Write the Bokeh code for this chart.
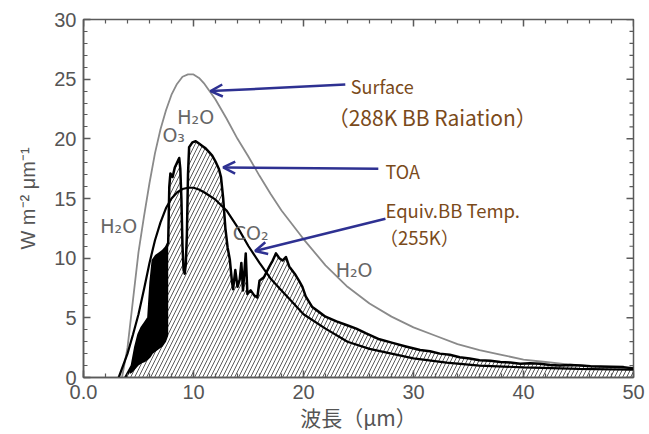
from bokeh.plotting import figure
from bokeh.models import Label, Arrow, OpenHead, FixedTicker, Range1d
from bokeh.embed import file_html
from bokeh.resources import INLINE

# ---- data ----
surf_x = [3.5, 4, 4.5, 5, 5.5, 6, 6.5, 7, 7.5, 8, 8.5, 9, 9.5, 10, 10.5, 11, 12, 13, 14, 15, 16,
          17, 18, 19, 20, 22, 24, 26, 28, 30, 32, 34, 36, 38, 40, 42, 44, 46, 48, 50]
surf_y = [0, 2.5, 6.5, 10.5, 13.5, 16.3, 18.8, 20.8, 22.4, 23.7, 24.6, 25.2, 25.4, 25.4, 25.1, 24.6,
          23.3, 21.7, 20.0, 18.5, 16.9, 15.4, 14.0, 12.8, 11.6, 9.4, 7.6, 6.2, 5.1, 4.2, 3.5, 2.8,
          2.3, 1.9, 1.5, 1.3, 1.1, 0.95, 0.85, 0.75]

bb_x = [3.2, 4, 4.5, 5, 5.5, 6, 6.5, 7, 7.5, 8, 8.5, 9, 9.5, 10, 10.5, 11, 12, 13, 14, 15, 16, 17,
        18, 19, 20, 22, 24, 26, 28, 30, 33, 36, 40, 45, 50]
bb_y = [0, 2.0, 3.6, 5.3, 7.4, 9.6, 11.5, 13.0, 14.2, 15.0, 15.5, 15.8, 15.9, 15.9, 15.75, 15.5,
        14.9, 14.0, 12.6, 11.0, 9.6, 8.3, 7.3, 6.3, 5.3, 4.1, 3.0, 2.4, 2.0, 1.6, 1.25, 1.0, 0.85,
        0.72, 0.65]

toa_x = [3.8, 4.1, 4.4, 4.7, 5.0, 5.3, 5.6, 5.9, 6.1, 6.3, 6.6, 6.9, 7.2, 7.5, 7.7, 7.8, 7.9, 8.1,
         8.3, 8.5, 8.7, 8.8, 8.9, 9.0, 9.1, 9.2, 9.3, 9.4, 9.5, 9.6, 9.9, 10.2, 10.5, 10.8, 11.1,
         11.4, 11.7, 12.0, 12.3, 12.5, 12.7, 12.9, 13.1, 13.3, 13.5, 13.6, 13.8, 14.0, 14.2, 14.35,
         14.5, 14.75, 14.9, 15.2, 15.5, 15.8, 16.0, 16.4, 16.9, 17.2, 17.5, 17.8, 18.1, 18.4, 18.7,
         19.2, 19.6, 19.9, 20.2, 20.8, 21.4, 22.0, 23.0, 23.9, 24.8, 25.7, 26.9, 28.1, 29.3, 30.6,
         31.5, 32.4, 33.3, 34.2, 35.1, 36.0, 37.0, 37.9, 38.8, 39.7, 40.6, 41.5, 42.4, 43.3, 44.2,
         45.2, 46.1, 47.0, 48.0, 49.1, 50.0]
toa_y = [0, 0.5, 1.0, 2.5, 3.6, 4.2, 4.6, 5.0, 8.0, 9.8, 10.2, 10.4, 10.6, 10.9, 11.3, 16.0, 17.1,
         16.8, 17.6, 18.0, 18.4, 17.5, 15.0, 11.0, 9.0, 8.7, 9.5, 12.0, 17.0, 19.3, 19.7, 19.8,
         19.6, 19.4, 19.2, 18.9, 18.6, 18.1, 17.5, 16.8, 15.0, 12.5, 10.9, 9.9, 8.0, 7.4, 9.0,
         7.6, 8.2, 9.6, 7.3, 10.4, 7.0, 7.3, 6.9, 6.7, 8.1, 8.4, 9.3, 9.8, 10.4, 10.0, 9.8, 10.1,
         9.3, 8.7, 8.1, 7.6, 6.8, 5.9, 5.5, 5.1, 4.7, 4.4, 4.1, 3.7, 3.2, 2.9, 2.6, 2.3, 2.2, 2.0,
         1.9, 1.7, 1.6, 1.45, 1.4, 1.3, 1.25, 1.15, 1.2, 1.15, 1.05, 1.0, 1.05, 1.0, 0.95, 0.92,
         0.9, 0.87, 0.75]

band_x = [4.2, 4.4, 4.7, 5.0, 5.3, 5.6, 5.9, 6.1, 6.3, 6.6, 6.9, 7.2, 7.5, 7.7]
band_hi = [0.6, 1.0, 2.5, 3.6, 4.2, 4.6, 5.0, 8.0, 9.8, 10.2, 10.4, 10.6, 10.9, 11.3]
band_lo = [0.3, 0.4, 0.7, 1.0, 1.2, 1.3, 1.5, 1.7, 2.0, 2.2, 2.4, 2.6, 3.0, 3.5]

x_ticks = [0, 10, 20, 30, 40, 50]
x_minor = list(range(0, 51, 2))
x_tick_labels = {0: "0.0"}
y_ticks = [0, 5, 10, 15, 20, 25, 30]
y_minor = list(range(0, 31))

X0, X1, Y0, Y1 = 0, 50, 0, 30

# ---- figure ----
p = figure(width=649, height=434, x_range=Range1d(X0, X1), y_range=Range1d(Y0, Y1),
           output_backend="svg", toolbar_location=None,
           min_border_left=83, min_border_right=16, min_border_top=19, min_border_bottom=57)
p.grid.visible = False
p.outline_line_color = "#5a5a5a"
p.outline_line_width = 1.5

AX = "#5a5a5a"
TXT = "#555555"

p.xaxis.ticker = FixedTicker(ticks=x_ticks, minor_ticks=x_minor)
p.xaxis.major_label_overrides = x_tick_labels
p.yaxis.ticker = FixedTicker(ticks=y_ticks, minor_ticks=y_minor)

for ax in (p.xaxis[0], p.yaxis[0]):
    ax.axis_line_color = AX
    ax.axis_line_width = 1.5
    ax.major_tick_line_color = AX
    ax.minor_tick_line_color = AX
    ax.major_tick_line_width = 1.5
    ax.minor_tick_line_width = 1.2
    ax.major_tick_in = 7
    ax.major_tick_out = 0
    ax.minor_tick_in = 4
    ax.minor_tick_out = 0
    ax.major_label_text_font = "Liberation Sans"
    ax.major_label_text_font_size = "20px"
    ax.major_label_text_color = TXT
    ax.axis_label_text_color = TXT
    ax.axis_label_text_font_style = "normal"

p.xaxis.major_label_standoff = 7
p.yaxis.major_label_standoff = 7
p.xaxis.axis_label = "波長（μm）"
p.xaxis.axis_label_text_font = "Noto Sans CJK JP"
p.xaxis.axis_label_text_font_size = "21px"
p.xaxis.axis_label_standoff = 0
p.yaxis.axis_label = "W m⁻² μm⁻¹"
p.yaxis.axis_label_text_font = "Liberation Sans"
p.yaxis.axis_label_text_font_size = "20px"
p.yaxis.axis_label_standoff = 12

# mirrored inward ticks on top and right edges (lengths in data units ~ 7px / 4px)
xs_px = 550 / (X1 - X0)
ys_px = 358 / (Y1 - Y0)
top_major = [t for t in x_ticks]
top_minor = [t for t in x_minor if t not in x_ticks]
p.segment(x0=top_major, y0=[Y1] * len(top_major), x1=top_major,
          y1=[Y1 - 7 / ys_px] * len(top_major), line_color=AX, line_width=1.5)
p.segment(x0=top_minor, y0=[Y1] * len(top_minor), x1=top_minor,
          y1=[Y1 - 4 / ys_px] * len(top_minor), line_color=AX, line_width=1.2)
r_major = [t for t in y_ticks]
r_minor = [t for t in y_minor if t not in y_ticks]
p.segment(x0=[X1] * len(r_major), y0=r_major, x1=[X1 - 7 / xs_px] * len(r_major), y1=r_major,
          line_color=AX, line_width=1.5)
p.segment(x0=[X1] * len(r_minor), y0=r_minor, x1=[X1 - 4 / xs_px] * len(r_minor), y1=r_minor,
          line_color=AX, line_width=1.2)

# hatched area under TOA
p.varea(x=toa_x, y1=0, y2=toa_y, fill_alpha=0, hatch_pattern="/", hatch_color="#333333",
        hatch_scale=8, hatch_weight=0.9, hatch_alpha=0.9)
# dense noisy band
p.varea(x=band_x, y1=band_lo, y2=band_hi, fill_color="black")
# curves
p.line(surf_x, surf_y, line_color="#8a8a8a", line_width=1.8)
p.line(toa_x, toa_y, line_color="black", line_width=2.5, line_join="round")
p.line(bb_x, bb_y, line_color="black", line_width=2.2)

# chemical labels
chem = [("H₂O", 10.2, 21.8), ("O₃", 8.2, 20.3), ("H₂O", 3.2, 12.7), ("CO₂", 15.2, 12.1),
        ("H₂O", 24.6, 9.0)]
for t, x, y in chem:
    p.add_layout(Label(x=x, y=y, text=t, text_align="center", text_baseline="middle",
                       text_font="DejaVu Sans", text_font_size="19px", text_color="#666666"))

# annotations
BROWN = "#7a4a1a"
FONT = "Noto Sans CJK JP"
notes = [("Surface", 24.3, 24.4, "18px"), ("（288K BB Raiation）", 22.2, 21.8, "21px"),
         ("TOA", 27.45, 17.3, "18px"), ("Equiv.BB Temp.", 27.45, 14.0, "18.5px"),
         ("（255K）", 26.9, 11.75, "18.5px")]
for t, x, y, s in notes:
    p.add_layout(Label(x=x, y=y, text=t, text_align="left", text_baseline="middle",
                       text_font=FONT, text_font_size=s, text_color=BROWN))

BLUE = "#2e3192"
arrows = [(23.8, 24.55, 11.55, 24.0), (26.8, 17.5, 12.7, 17.6), (27.45, 13.3, 15.6, 10.6)]
for x0, y0, x1, y1 in arrows:
    p.add_layout(Arrow(x_start=x0, y_start=y0, x_end=x1, y_end=y1, line_color=BLUE,
                       line_width=2.5,
                       end=OpenHead(size=12, line_color=BLUE, line_width=2.5)))

open("out.html", "w").write(file_html(p, INLINE))
